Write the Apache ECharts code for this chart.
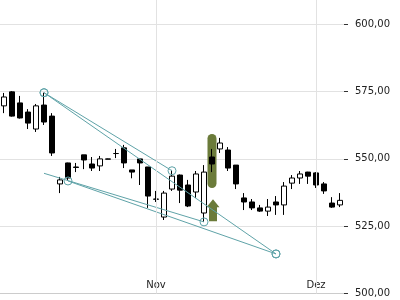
<!DOCTYPE html>
<html><head><meta charset="utf-8">
<script src="https://cdn.jsdelivr.net/npm/echarts@6/dist/echarts.min.js"></script>
<style>html,body{margin:0;padding:0;background:#fff}#c{width:400px;height:300px}</style>
</head><body><div id="c"></div>
<script>
const dates = ['05.10.','06.10.','09.10.','10.10.','11.10.','12.10.','13.10.','16.10.','17.10.','18.10.','19.10.','20.10.','23.10.','24.10.','25.10.','26.10.','27.10.','30.10.','31.10.',
  '01.11.','02.11.','03.11.','06.11.','07.11.','08.11.','09.11.','10.11.','13.11.','14.11.','15.11.','16.11.','17.11.','20.11.','21.11.','22.11.','23.11.','24.11.','27.11.','28.11.',
  '01.12.','04.12.','05.12.','06.12.'];
const opens  = [569.7,574.9,570.8,567.4,561.1,570.0,565.9,540.7,548.5,547.0,551.5,548.1,547.4,550.0,552.0,554.1,545.9,550.0,547.0,535.1,528.4,538.8,544.0,540.3,537.7,529.9,550.7,553.7,553.3,547.7,535.5,534.0,531.8,530.6,534.0,532.9,541.0,542.9,545.1,544.8,540.7,533.6,532.9];
const closes = [573.0,565.9,565.2,563.3,569.7,563.7,552.2,542.2,542.9,546.8,549.6,546.6,550.0,549.9,552.0,548.5,545.1,548.5,536.2,535.0,537.3,543.6,538.4,532.5,544.4,545.1,548.1,555.9,546.6,540.7,534.0,531.8,530.6,532.1,532.9,539.9,542.9,544.4,543.6,540.3,538.1,532.1,534.6];
const lows   = [567.0,565.7,565.0,561.1,560.0,562.6,551.1,537.3,541.8,545.1,546.2,545.5,545.5,549.9,550.3,546.6,542.8,540.3,531.8,534.0,527.3,538.1,533.6,532.1,535.5,526.6,545.1,552.2,545.5,538.8,531.0,531.0,530.3,528.8,529.2,529.2,538.8,540.7,540.7,539.2,537.0,531.8,532.1];
const highs  = [574.5,575.2,573.4,568.5,570.4,574.6,567.0,543.3,548.6,548.5,551.5,550.7,551.1,550.1,553.7,555.2,545.9,550.0,547.0,538.1,538.1,545.9,544.2,542.2,545.5,547.7,553.7,557.8,554.4,547.7,537.3,535.1,532.9,535.1,536.2,541.4,544.0,545.5,545.2,545.1,541.4,535.8,537.3];
const lastPrice = 534.6;
const trendA = [[5,574.6],[21,545.6]];
const trendB = [[5,574.6],[34,514.7]];
const trendC = [[5,544.65],[25,526.6]];
const trendD = [[8,541.8],[34,514.7]];
const markerBar = [[26,549.2]];
const markerArrow = [[26,530.9]];
const monthNames = {'10':'Okt','11':'Nov','12':'Dez'};

const FONT = 'DejaVu Sans';
const TEAL = '#5fa3a8';
const OLIVE = '#6b7b3a';
const isMonthStart = (i, v) => String(v).startsWith('01.');
const fmt = v => v.toFixed(2).replace('.', ',');
const candleData = opens.map((o, i) => [o, closes[i], lows[i], highs[i]]);

function trend(data, noFirstSymbol) {
  return {
    type: 'line', z: 4, showAllSymbol: true, symbol: 'circle', symbolSize: 8,
    silent: true,
    data: data.map((p, i) => (noFirstSymbol && i === 0) ? {value: p, symbol: 'none'} : {value: p}),
    lineStyle: {color: TEAL, width: 1},
    itemStyle: {color: 'rgba(255,255,255,0)', borderColor: TEAL, borderWidth: 1}
  };
}

const chart = echarts.init(document.getElementById('c'), null, {renderer: 'canvas'});
chart.setOption({
  animation: false,
  backgroundColor: '#fff',
  textStyle: {fontFamily: FONT},
  grid: {left: 0, right: 56, top: -43, bottom: 6.5, containLabel: false, outerBoundsMode: 'none'},
  xAxis: {
    type: 'category', data: dates, boundaryGap: true,
    axisLine: {lineStyle: {color: '#cccccc'}},
    axisTick: {alignWithLabel: true, length: 4, interval: isMonthStart, lineStyle: {color: '#333'}},
    axisLabel: {inside: true, interval: isMonthStart, margin: 3, fontSize: 10, color: '#222', fontFamily: FONT,
      formatter: v => monthNames[v.slice(3,5)]},
    splitLine: {show: false}
  },
  yAxis: {
    type: 'value', position: 'right', min: 500, max: 625, interval: 25, scale: false,
    axisLine: {show: false},
    axisTick: {show: true, length: 4, lineStyle: {color: '#333'}},
    axisLabel: {margin: 11, fontSize: 10, color: '#222', fontFamily: FONT, formatter: fmt},
    splitLine: {lineStyle: {color: '#e2e2e2'}}
  },
  series: [
    {
      type: 'line', data: [], z: 1, silent: true,
      markLine: {silent: true, symbol: 'none', animation: false,
        data: dates.filter((d, i) => isMonthStart(i, d)).map(d => ({xAxis: d})),
        lineStyle: {color: '#e2e2e2', width: 1, type: 'solid'}, label: {show: false}}
    },
    {
      type: 'scatter', z: 2, silent: true,
      data: markerBar, symbol: 'path://M0,4.5 A4.5,4.5 0 0 1 9,4.5 L9,49.5 A4.5,4.5 0 0 1 0,49.5 Z',
      symbolSize: [9, 54], itemStyle: {color: OLIVE, opacity: 1}
    },
    {
      type: 'scatter', z: 2, silent: true,
      data: markerArrow, symbol: 'path://M6.5,0 L13,8 L10.5,8 L10.5,22 L2.5,22 L2.5,8 L0,8 Z',
      symbolSize: [13, 22], symbolOffset: [1, 0], itemStyle: {color: OLIVE, opacity: 1}
    },
    {
      type: 'candlestick', z: 3, barWidth: 5, data: candleData,
      itemStyle: {color: '#ffffff', color0: '#000000', borderColor: '#000000', borderColor0: '#000000', borderWidth: 1},
      markLine: {silent: true, symbol: 'none', animation: false,
        data: [{yAxis: lastPrice}],
        lineStyle: {opacity: 0},
        label: {position: 'end', distance: 11, formatter: () => fmt(lastPrice), fontSize: 10, color: '#222', fontFamily: FONT}}
    },
    trend(trendA), trend(trendB), trend(trendC, true), trend(trendD)
  ]
});
</script></body></html>
